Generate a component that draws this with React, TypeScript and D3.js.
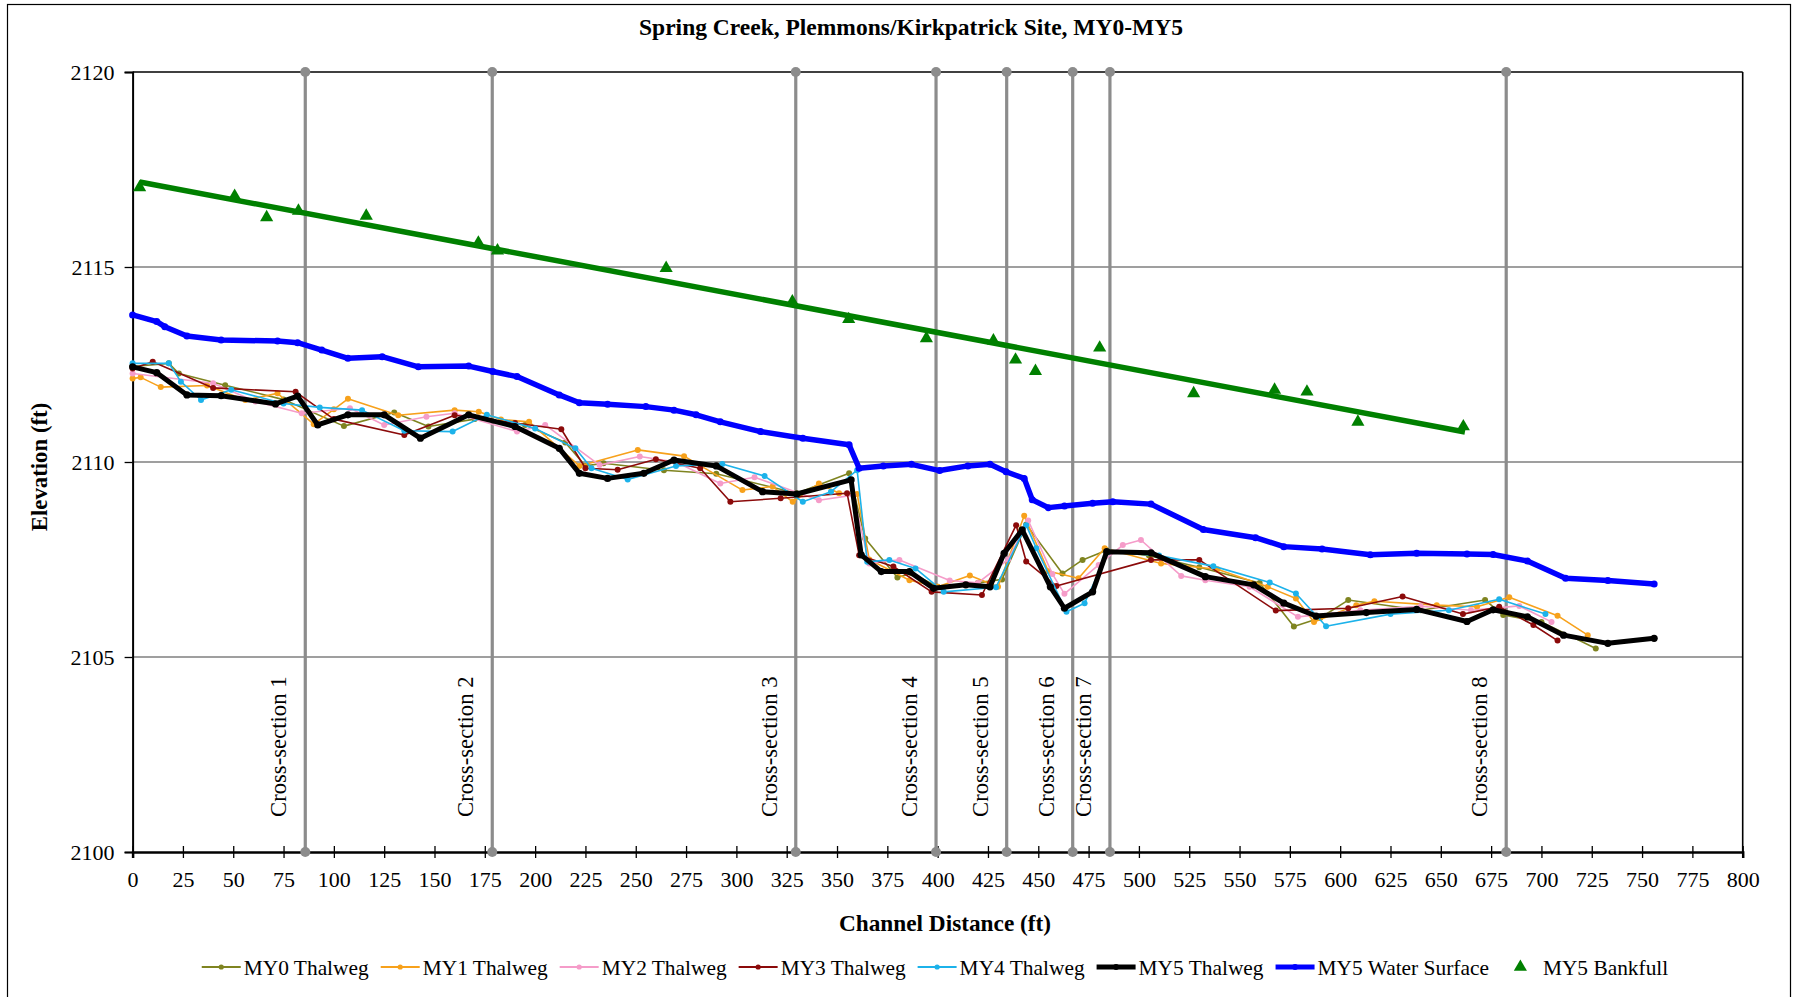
import React, { useEffect, useRef } from 'react';
import * as d3 from 'd3';

type Pt = [number, number];

// channel distance (ft), elevation (ft)
const my0Thalweg: Pt[] = [
  [0, 2112.45], [18, 2112.53], [23, 2112.27], [46, 2111.97], [75, 2111.6], [105, 2110.92],
  [130, 2111.27], [147, 2110.91], [170, 2111.1], [195, 2110.95], [215, 2110.5], [225, 2109.9],
  [234, 2109.97], [264, 2109.79], [290, 2109.7], [330, 2109.2], [356, 2109.71], [364, 2108.04],
  [380, 2107.04], [387, 2107.15], [400, 2106.8], [420, 2106.9], [432, 2106.99], [444, 2108.4],
  [462, 2107.14], [472, 2107.49], [484, 2107.74], [505, 2107.6], [530, 2107.3], [560, 2106.9],
  [577, 2105.78], [590, 2106.0], [604, 2106.46], [640, 2106.2], [672, 2106.46], [681, 2106.08],
  [700, 2105.9], [727, 2105.22],
];
const my1Thalweg: Pt[] = [
  [0, 2112.14], [4, 2112.17], [14, 2111.92], [37, 2111.96], [56, 2111.59], [72, 2111.76],
  [90, 2110.97], [100, 2111.35], [107, 2111.62], [132, 2111.2], [160, 2111.33], [172, 2111.29],
  [183, 2111.09], [197, 2111.03], [222, 2109.9], [251, 2110.31], [274, 2110.15], [303, 2109.28],
  [318, 2109.37], [328, 2108.98], [341, 2109.45], [351, 2109.2], [360, 2109.18], [366, 2107.5],
  [386, 2106.97], [400, 2106.8], [416, 2107.09], [430, 2106.8], [443, 2108.62], [455, 2107.2],
  [470, 2107.02], [483, 2107.79], [511, 2107.4], [539, 2107.25], [564, 2106.8], [578, 2106.5],
  [587, 2105.9], [608, 2106.33], [617, 2106.43], [648, 2106.33], [668, 2106.29], [684, 2106.53],
  [708, 2106.06], [723, 2105.56],
];
const my2Thalweg: Pt[] = [
  [0, 2112.27], [40, 2112.02], [61, 2111.55], [84, 2111.25], [108, 2111.38], [125, 2110.95],
  [146, 2111.16], [160, 2111.25], [191, 2110.78], [205, 2110.95], [232, 2109.92], [252, 2110.14],
  [270, 2110.0], [292, 2109.45], [309, 2109.61], [341, 2109.02], [358, 2109.15], [366, 2107.4],
  [381, 2107.49], [406, 2106.96], [420, 2106.9], [435, 2107.5], [445, 2108.5], [457, 2107.13],
  [463, 2106.62], [480, 2107.36], [492, 2107.87], [501, 2108.0], [521, 2107.08], [533, 2106.97],
  [555, 2106.8], [579, 2106.03], [610, 2106.2], [640, 2106.3], [665, 2106.2], [689, 2106.31],
  [705, 2105.9],
];
const my3Thalweg: Pt[] = [
  [0, 2112.4], [10, 2112.57], [40, 2111.9], [81, 2111.8], [100, 2111.1], [135, 2110.69],
  [160, 2111.2], [190, 2111.0], [213, 2110.84], [225, 2109.84], [241, 2109.8], [260, 2110.07],
  [282, 2109.84], [297, 2108.98], [322, 2109.07], [355, 2109.2], [361, 2107.61], [378, 2107.32],
  [397, 2106.67], [422, 2106.59], [439, 2108.38], [444, 2107.45], [459, 2106.82], [506, 2107.49],
  [530, 2107.49], [568, 2106.19], [604, 2106.25], [631, 2106.55], [661, 2106.1], [679, 2106.29],
  [696, 2105.82], [708, 2105.42],
];
const my4Thalweg: Pt[] = [
  [0, 2112.53], [18, 2112.53], [24, 2112.06], [34, 2111.59], [49, 2111.85], [75, 2111.5],
  [93, 2111.4], [114, 2111.33], [135, 2110.8], [159, 2110.78], [176, 2111.21], [200, 2110.86],
  [220, 2110.35], [228, 2109.84], [246, 2109.55], [270, 2109.9], [293, 2109.95], [314, 2109.64],
  [333, 2108.98], [347, 2109.24], [360, 2109.79], [365, 2107.44], [376, 2107.49], [389, 2107.27],
  [403, 2106.67], [429, 2106.79], [444, 2108.38], [449, 2107.79], [464, 2106.16], [473, 2106.38],
  [485, 2107.7], [510, 2107.6], [537, 2107.33], [565, 2106.91], [578, 2106.63], [593, 2105.79],
  [625, 2106.1], [654, 2106.2], [679, 2106.48], [702, 2106.1],
];
const my5Thalweg: Pt[] = [
  [0, 2112.44], [12, 2112.29], [27, 2111.72], [44, 2111.7], [71, 2111.49], [82, 2111.69],
  [92, 2110.95], [107, 2111.21], [125, 2111.21], [143, 2110.61], [167, 2111.21], [190, 2110.91],
  [212, 2110.35], [222, 2109.71], [236, 2109.58], [254, 2109.71], [269, 2110.05], [290, 2109.9],
  [313, 2109.24], [330, 2109.18], [357, 2109.54], [362, 2107.62], [372, 2107.19], [386, 2107.19],
  [398, 2106.76], [414, 2106.85], [426, 2106.8], [433, 2107.66], [442, 2108.26], [456, 2106.8],
  [463, 2106.25], [477, 2106.67], [484, 2107.7], [506, 2107.67], [533, 2107.06], [557, 2106.85],
  [572, 2106.38], [588, 2106.05], [613, 2106.14], [638, 2106.22], [663, 2105.91], [676, 2106.21],
  [693, 2106.03], [711, 2105.56], [733, 2105.35], [756, 2105.48],
];
const my5WaterSurface: Pt[] = [
  [0, 2113.77], [12, 2113.6], [16, 2113.47], [27, 2113.23], [44, 2113.13], [72, 2113.1],
  [82, 2113.06], [94, 2112.87], [107, 2112.66], [124, 2112.7], [142, 2112.44], [167, 2112.46],
  [179, 2112.32], [191, 2112.19], [212, 2111.72], [222, 2111.52], [236, 2111.48], [255, 2111.42],
  [269, 2111.33], [280, 2111.21], [292, 2111.03], [312, 2110.78], [333, 2110.61], [356, 2110.44],
  [361, 2109.84], [373, 2109.9], [387, 2109.94], [401, 2109.78], [415, 2109.9], [426, 2109.94],
  [434, 2109.75], [443, 2109.58], [447, 2109.03], [455, 2108.83], [463, 2108.87], [477, 2108.94],
  [487, 2108.98], [506, 2108.92], [532, 2108.27], [558, 2108.06], [572, 2107.83], [591, 2107.77],
  [615, 2107.62], [638, 2107.66], [663, 2107.64], [676, 2107.63], [693, 2107.46], [712, 2107.02],
  [733, 2106.96], [756, 2106.87],
];
const my5Bankfull: Pt[] = [
  [3.5, 2117.04], [50.7, 2116.82], [66.6, 2116.27], [82.4, 2116.44], [116.1, 2116.31],
  [171.8, 2115.62], [181.3, 2115.42], [265.1, 2114.97], [327.8, 2114.11], [355.8, 2113.66],
  [394.4, 2113.17], [427.7, 2113.11], [438.7, 2112.62], [448.6, 2112.33], [480.5, 2112.93],
  [527.2, 2111.76], [567.4, 2111.85], [583.5, 2111.8], [608.8, 2111.03], [661.2, 2110.91],
];
// bankfull line, end points
const bankfullLine: Pt[] = [[3.5, 2117.18], [662, 2110.77]];

const crossSections = [85.8, 178.7, 329.5, 399.2, 434.3, 467.1, 485.6, 682.5];
const crossSectionLabels = crossSections.map((_, i) => `Cross-section ${i + 1}`);

const xTicks = d3.range(0, 801, 25);
const yTicks = [2100, 2105, 2110, 2115, 2120];

const seriesNames = ['MY0 Thalweg', 'MY1 Thalweg', 'MY2 Thalweg', 'MY3 Thalweg', 'MY4 Thalweg',
  'MY5 Thalweg', 'MY5 Water Surface', 'MY5 Bankfull'];

const SERIF = "'Liberation Serif', 'Times New Roman', serif";

const App: React.FC = () => {
  const svgRef = useRef<SVGSVGElement>(null);

  useEffect(() => {
    if (!svgRef.current) return;
    const svg = d3.select(svgRef.current);
    svg.selectAll('*').remove();

    const width = 1793;
    const height = 997;
    const plot = { left: 132.6, right: 1742.7, top: 72, bottom: 852 };

    const x = d3.scaleLinear().domain([0, 800]).range([plot.left, plot.right]);
    const y = d3.scaleLinear().domain([2100, 2120]).range([plot.bottom, plot.top]);

    svg.append('rect').attr('width', width).attr('height', height).attr('fill', '#fff');
    svg.append('rect')
      .attr('x', 7.5).attr('y', 4.5).attr('width', 1783).attr('height', 1000)
      .attr('fill', 'none').attr('stroke', '#000').attr('stroke-width', 1.2);

    // title
    svg.append('text')
      .attr('x', 911).attr('y', 35)
      .attr('text-anchor', 'middle')
      .attr('font-family', SERIF).attr('font-weight', 'bold').attr('font-size', 23.5)
      .text('Spring Creek, Plemmons/Kirkpatrick Site, MY0-MY5');

    // gridlines
    svg.append('g').selectAll('line')
      .data(yTicks.filter(t => t > 2100 && t < 2120))
      .enter().append('line')
      .attr('x1', plot.left).attr('x2', plot.right)
      .attr('y1', d => y(d)).attr('y2', d => y(d))
      .attr('stroke', '#7f7f7f').attr('stroke-width', 1.3);

    // frame
    svg.append('line').attr('x1', plot.left).attr('x2', plot.right)
      .attr('y1', plot.top).attr('y2', plot.top).attr('stroke', '#000').attr('stroke-width', 1.6);
    svg.append('line').attr('x1', plot.right).attr('x2', plot.right)
      .attr('y1', plot.top).attr('y2', plot.bottom).attr('stroke', '#000').attr('stroke-width', 1.6);

    // axes
    const yAxis = svg.append('g')
      .attr('transform', `translate(${plot.left},0)`)
      .call(d3.axisLeft(y).tickValues(yTicks).tickSize(8).tickPadding(10).tickFormat(d3.format('d')));
    yAxis.select('.domain').attr('stroke', '#000').attr('stroke-width', 2);
    yAxis.selectAll('.tick line').attr('stroke', '#000').attr('stroke-width', 1.3);
    yAxis.selectAll('.tick text')
      .attr('font-family', SERIF).attr('font-size', 22).attr('fill', '#000').attr('dy', '0.33em');

    const xAxis = svg.append('g')
      .attr('transform', `translate(0,${plot.bottom})`)
      .call(d3.axisBottom(x).tickValues(xTicks).tickSize(6).tickPadding(0).tickFormat(d3.format('d')));
    xAxis.select('.domain').attr('stroke', '#000').attr('stroke-width', 2.5);
    xAxis.selectAll('.tick line').attr('y1', -6).attr('y2', 6).attr('stroke', '#000').attr('stroke-width', 1.3);
    xAxis.selectAll('.tick text')
      .attr('font-family', SERIF).attr('font-size', 22).attr('fill', '#000')
      .attr('y', 35).attr('dy', 0);

    // axis titles
    svg.append('text')
      .attr('x', 945).attr('y', 931)
      .attr('text-anchor', 'middle')
      .attr('font-family', SERIF).attr('font-weight', 'bold').attr('font-size', 23.3)
      .text('Channel Distance (ft)');
    svg.append('text')
      .attr('transform', 'translate(47,467) rotate(-90)')
      .attr('text-anchor', 'middle')
      .attr('font-family', SERIF).attr('font-weight', 'bold').attr('font-size', 22.8)
      .text('Elevation (ft)');

    // cross-sections
    const xs = svg.append('g');
    crossSections.forEach((d, i) => {
      xs.append('line')
        .attr('x1', x(d)).attr('x2', x(d)).attr('y1', y(2120)).attr('y2', y(2100))
        .attr('stroke', '#8c8c8c').attr('stroke-width', 3.2);
      [2120, 2100].forEach(v => {
        xs.append('circle').attr('cx', x(d)).attr('cy', y(v)).attr('r', 5).attr('fill', '#8c8c8c');
      });
      xs.append('text')
        .attr('transform', `translate(${x(d) - 19},817) rotate(-90)`)
        .attr('font-family', SERIF).attr('font-size', 22.7).attr('fill', '#000')
        .text(crossSectionLabels[i]);
    });

    const line = d3.line<Pt>().x(d => x(d[0])).y(d => y(d[1]));

    const thalwegs: { data: Pt[]; color: string; w: number; r: number }[] = [
      { data: my0Thalweg, color: '#7f8420', w: 1.6, r: 3 },
      { data: my1Thalweg, color: '#f7a11b', w: 1.6, r: 3 },
      { data: my2Thalweg, color: '#f59cc9', w: 1.6, r: 3 },
      { data: my3Thalweg, color: '#8b0a0a', w: 1.6, r: 3 },
      { data: my4Thalweg, color: '#1cb2ea', w: 1.6, r: 3 },
      { data: my5Thalweg, color: '#000000', w: 5, r: 3.6 },
    ];
    thalwegs.forEach(s => {
      const g = svg.append('g');
      g.append('path').datum(s.data)
        .attr('fill', 'none').attr('stroke', s.color).attr('stroke-width', s.w)
        .attr('stroke-linejoin', 'round').attr('d', line);
      g.selectAll('circle').data(s.data).enter().append('circle')
        .attr('cx', d => x(d[0])).attr('cy', d => y(d[1])).attr('r', s.r).attr('fill', s.color);
    });

    // water surface
    const ws = svg.append('g');
    ws.append('path').datum(my5WaterSurface)
      .attr('fill', 'none').attr('stroke', '#0000ff').attr('stroke-width', 5.5)
      .attr('stroke-linejoin', 'round').attr('d', line);
    ws.selectAll('circle').data(my5WaterSurface).enter().append('circle')
      .attr('cx', d => x(d[0])).attr('cy', d => y(d[1])).attr('r', 3.5).attr('fill', '#0000ff');

    // bankfull line and points
    svg.append('path').datum(bankfullLine)
      .attr('fill', 'none').attr('stroke', '#008000').attr('stroke-width', 5.5).attr('d', line);
    const tri = d3.symbol().type(d3.symbolTriangle).size(75);
    svg.append('g').selectAll('path').data(my5Bankfull).enter().append('path')
      .attr('transform', d => `translate(${x(d[0])},${y(d[1])})`)
      .attr('d', tri()).attr('fill', '#008000');

    // legend
    const legendColors = ['#7f8420', '#f7a11b', '#f59cc9', '#8b0a0a', '#1cb2ea', '#000000', '#0000ff', '#008000'];
    const legend = svg.append('g');
    const ly = 967;
    let cx = 0;
    seriesNames.forEach((name, i) => {
      const item = legend.append('g').attr('transform', `translate(${cx},0)`);
      const c = legendColors[i];
      if (i < 7) {
        item.append('line').attr('x1', 0).attr('x2', 39).attr('y1', ly).attr('y2', ly)
          .attr('stroke', c).attr('stroke-width', i >= 5 ? 5 : 1.8);
        item.append('circle').attr('cx', 19.5).attr('cy', ly).attr('r', i >= 5 ? 3 : 2.6).attr('fill', c);
      } else {
        item.append('path').attr('transform', `translate(19.5,${ly})`).attr('d', tri()).attr('fill', c);
      }
      const t = item.append('text')
        .attr('x', 42).attr('y', ly + 8)
        .attr('font-family', SERIF).attr('font-size', 21.4).attr('fill', '#000')
        .text(name);
      const tw = (t.node() as SVGTextElement).getComputedTextLength();
      cx += 42 + tw + 12;
    });
    const total = cx - 12;
    legend.attr('transform', `translate(${935 - total / 2},0)`);
  }, []);

  return (
    <svg
      ref={svgRef}
      width={1793}
      height={997}
      viewBox="0 0 1793 997"
      style={{ position: 'absolute', left: 0, top: 0, display: 'block' }}
    />
  );
};

export default App;
